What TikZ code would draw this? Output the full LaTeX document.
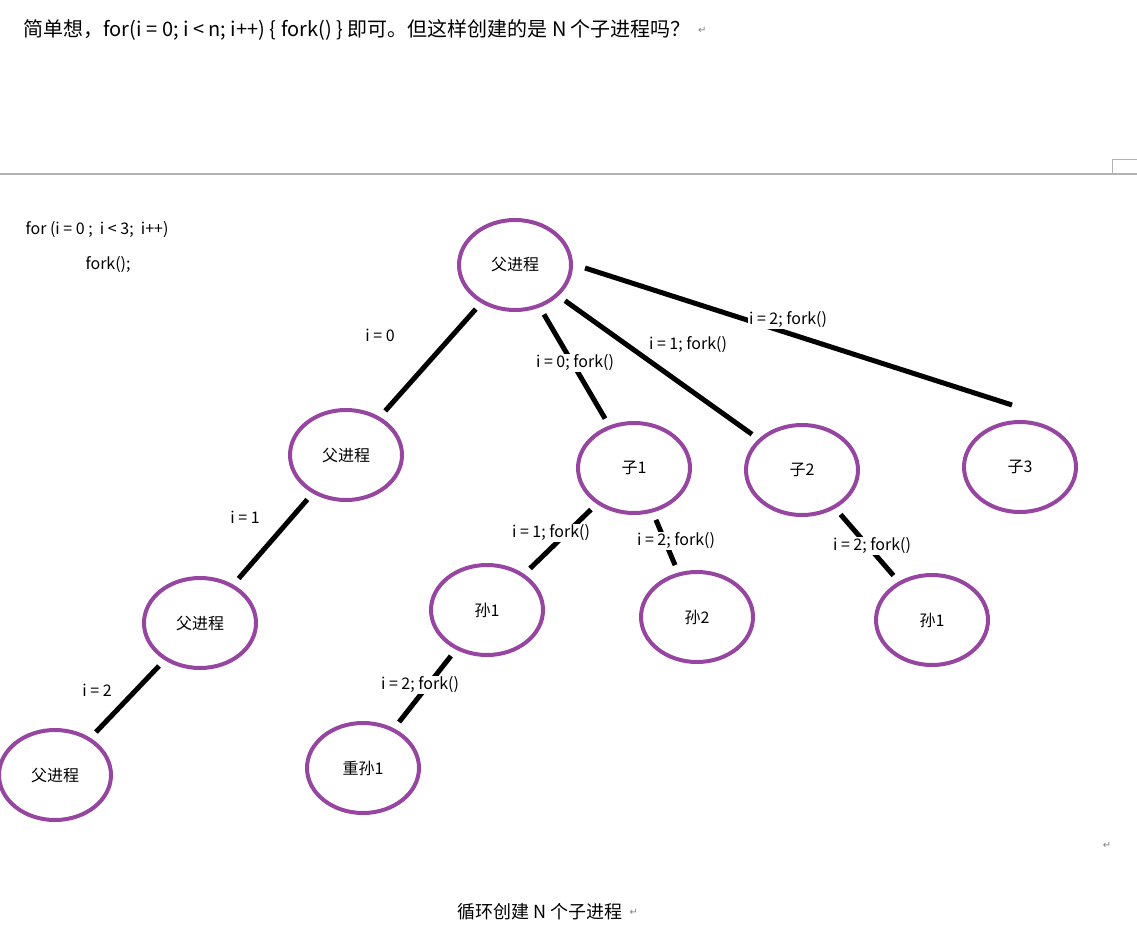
\documentclass[tikz,border=0pt]{standalone}
\usepackage{fontspec}
\setmainfont{Noto Sans CJK SC}
\newfontfamily\symf{DejaVu Sans}
\usetikzlibrary{shapes.geometric}
\begin{document}
\begin{tikzpicture}[x=1pt,y=-1pt,
 proc/.style={ellipse,draw=pur,line width=4pt,minimum width=112pt,minimum height=90pt,inner sep=0pt,font=\fontsize{16}{18}\selectfont},
 edge/.style={line width=5pt,shorten <=8pt,shorten >=8pt},
 lab/.style={fill=white,inner sep=1pt,font=\fontsize{16}{18}\selectfont},
 ret/.style={font=\symf\fontsize{10}{12}\selectfont,text=gray}]
\definecolor{pur}{RGB}{150,70,160}
\useasboundingbox (0,0) rectangle (1137,933);
\node[anchor=west,font=\fontsize{20}{22}\selectfont] (t) at (20,30) {简单想，for(i = 0; i < n; i++) \{ fork() \} 即可。但这样创建的是 N 个子进程吗？};
\node[ret,anchor=west] (r1) at (t.east) {↵};
\draw[gray!60,line width=1.5pt] (0,174) -- (1137,174);
\draw[gray!60,line width=1pt] (1112,173) -- (1112,160) -- (1137,160);
\node[anchor=west,font=\fontsize{16}{18}\selectfont] (c1) at (22,230) {for (i = 0 ;\ \ i < 3;\ \ i++)};
\node[anchor=west,font=\fontsize{16}{18}\selectfont] (c2) at (82,265) {fork();};
\node[proc] (p0) at (515,265) {父进程};
\node[proc] (p1) at (346,455) {父进程};
\node[proc] (z1) at (634,468) {子1};
\node[proc] (z2) at (802,470) {子2};
\node[proc] (z3) at (1020,467) {子3};
\node[proc] (p2) at (200,623) {父进程};
\node[proc] (s1) at (487,610) {孙1};
\node[proc] (s2) at (697,617) {孙2};
\node[proc] (s3) at (932,620) {孙1};
\node[proc] (p3) at (55,775) {父进程};
\node[proc] (cs) at (363,768) {重孙1};
\coordinate (a3) at (585,268);
\coordinate (b3) at (1012,405);
\draw[edge] (p0) -- (p1);
\draw[edge] (p0) -- (z1);
\draw[edge] (p0) -- (z2);
\draw[edge,shorten <=0pt,shorten >=0pt] (a3) -- (b3);
\draw[edge] (p1) -- (p2);
\draw[edge] (z1) -- (s1);
\draw[edge] (z1) -- (s2);
\draw[edge] (z2) -- (s3);
\draw[edge] (p2) -- (p3);
\draw[edge] (s1) -- (cs);
\node[lab] (e1) at (575,363) {i = 0; fork()};
\node[lab] (e2) at (688,345) {i = 1; fork()};
\node[lab] (e3) at (788,320) {i = 2; fork()};
\node[lab] (e4) at (551,533) {i = 1; fork()};
\node[lab] (e5) at (676,541) {i = 2; fork()};
\node[lab] (e6) at (872,546) {i = 2; fork()};
\node[lab] (e7) at (420,685) {i = 2; fork()};
\node[lab] (l0) at (380,335) {i = 0};
\node[lab] (l1) at (245,517) {i = 1};
\node[lab] (l2) at (97,690) {i = 2};
\node[ret] (r2) at (1107,845) {↵};
\node[font=\fontsize{18}{20}\selectfont] (cap) at (540,912) {循环创建 N 个子进程};
\node[ret,anchor=west] (r3) at (cap.east) {↵};
\end{tikzpicture}
\end{document}
